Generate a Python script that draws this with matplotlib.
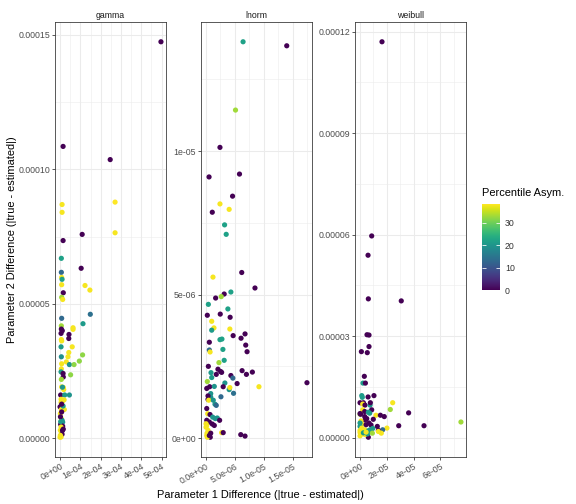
import numpy as np
import matplotlib
matplotlib.use("Agg")
import matplotlib.pyplot as plt
from matplotlib.colors import Normalize
from matplotlib.cm import ScalarMappable
from matplotlib.ticker import FixedLocator

plt.rcParams['font.family'] = ['Liberation Sans', 'DejaVu Sans']

# ---------------- data ----------------
gamma_x = [4.97e-4, 1.5e-5, 2.47e-4, 1.0e-5, 1.0e-5, 2.71e-4, 2.71e-4, 1.5e-5, 1.09e-4, 6.4e-6,
           1.04e-4, 6.4e-6, 8e-6, 1.0e-5, 8e-6, 1.23e-4, 1.47e-4, 1.6e-5, 8e-6, 1.3e-5,
           8e-6, 1.49e-4, 1.13e-4, 6.4e-6, 6.4e-6, 1.1e-5, 5e-6, 4.4e-5, 4.3e-5, 6.4e-5,
           6.4e-5, 6.4e-6, 8e-6, 6.0e-5, 4.3e-5, 3.9e-5, 5e-6, 6.4e-6, 3.1e-5, 4.6e-5,
           6.9e-5, 9.5e-5, 1.11e-4, 8e-6, 6.4e-6, 5e-6, 5.2e-5, 1.5e-5, 1.6e-5, 6.4e-6,
           8e-6, 1.6e-5, 1.8e-5, 3e-6, 2.3e-5, 4.6e-5, 5e-6, 1.3e-5, 2.0e-5, 5e-6,
           0.0, 6.4e-6, 2.1e-5, 1.5e-6, 6.4e-6, 1.0e-5, 1.3e-5, 3e-6, 1.3e-5, 5e-6,
           1.5e-6, 6.4e-6, 1.0e-5, 1.5e-6, 5e-6, 0.0, 2e-6, 8e-6, 3e-6, 1.5e-5,
           8e-6, 1.2e-5, 1.2e-5, 1.6e-5]
gamma_y = [1.474e-4, 1.085e-4, 1.036e-4, 8.69e-5, 8.40e-5, 8.78e-5, 7.64e-5, 7.35e-5, 7.58e-5, 6.69e-5,
           6.32e-5, 6.17e-5, 5.98e-5, 5.91e-5, 5.71e-5, 5.68e-5, 5.51e-5, 5.41e-5, 5.24e-5, 5.16e-5,
           4.46e-5, 4.61e-5, 4.26e-5, 4.18e-5, 4.06e-5, 4.0e-5, 3.9e-5, 3.86e-5, 3.71e-5, 4.11e-5,
           4.05e-5, 3.67e-5, 3.62e-5, 3.40e-5, 3.19e-5, 3.03e-5, 3.40e-5, 3.03e-5, 2.84e-5, 2.74e-5,
           2.74e-5, 2.87e-5, 3.10e-5, 2.77e-5, 2.58e-5, 2.47e-5, 2.36e-5, 2.41e-5, 2.28e-5, 2.19e-5,
           1.91e-5, 1.89e-5, 1.81e-5, 1.61e-5, 1.61e-5, 1.61e-5, 1.45e-5, 1.39e-5, 1.43e-5, 1.33e-5,
           1.17e-5, 1.07e-5, 1.07e-5, 9.2e-6, 7.3e-6, 6.7e-6, 6.0e-6, 5.2e-6, 4.5e-6, 4.2e-6,
           3.0e-6, 2.3e-6, 1.5e-6, 1.1e-6, 5e-7, 4e-7, 8.0e-6, 9.8e-6, 6.2e-6, 1.2e-5,
           1.27e-5, 2.9e-6, 1.9e-5, 3.4e-6]
gamma_c = [0, 0, 0, 38, 38, 38.5, 38, 0, 0, 22,
           0, 13, 38, 22, 38, 38, 38, 0, 33, 38,
           13, 14, 21, 33, 0, 0, 0, 0, 0, 38,
           38, 38, 38, 38, 38, 38, 21, 19, 38, 20,
           32, 32, 32, 38, 38, 21, 32, 0, 0, 33,
           38, 38, 38, 0, 21, 20, 38, 38, 38, 38,
           0, 38, 38, 38, 38, 20, 20, 0, 0, 38,
           38, 38, 0, 38, 38, 38, 0, 0, 21, 21,
           0, 0, 20, 0]

lnorm_x = [6.41e-6, 1.397e-5, 5.10e-6, 2.41e-6, 5.2e-7, 5.79e-6, 4.59e-6, 2.41e-6, 4.0e-6, 1.08e-6,
           3.21e-6, 3.49e-6, 6.18e-6, 1.20e-6, 8.47e-6, 4.30e-6, 3.14e-6, 2.63e-6, 1.66e-6, 4.0e-7,
           3.78e-6, 2.46e-6, 2.2e-7, 4.17e-6, 9.8e-7, 4.12e-6, 1.37e-6, 9.8e-7, 4.69e-6, 6.75e-6,
           6.06e-6, 6.87e-6, 7.10e-6, 5.7e-7, 2.41e-6, 2.75e-6, 5.7e-7, 7e-7, 2.92e-6, 3.14e-6,
           2.23e-6, 4.0e-7, 2.06e-6, 2.52e-6, 1.77e-6, 2.70e-6, 8.6e-7, 9.8e-7, 6.24e-6, 6.99e-6,
           8.02e-6, 4.30e-6, 4.64e-6, 5.38e-6, 4.76e-6, 3.26e-6, 2.97e-6, 4.0e-6, 4.12e-6, 9.16e-6,
           1.747e-5, 2.2e-7, 6.3e-7, 1.43e-6, 1.2e-7, 8.1e-7, 8.1e-7, 3.4e-7, 3.4e-7, 4.6e-7,
           1.25e-6, 1.55e-6, 2.58e-6, 1.77e-6, 1.2e-7, 2.9e-7, 6.9e-7, 1.15e-6, 1.60e-6, 1.94e-6,
           2.35e-6, 1.2e-7, 5.7e-7, 1.08e-6, 1.43e-6, 0.0, 1.2e-7, 0.0, 3.4e-7, 1.7e-7,
           7.3e-7, 1.2e-7, 2.2e-7, 2.70e-6, 2.97e-6, 6.01e-6, 6.75e-6, 8.1e-7, 5.7e-7]
lnorm_y = [1.381e-5, 1.367e-5, 1.143e-5, 1.013e-5, 9.10e-6, 9.20e-6, 8.43e-6, 8.16e-6, 7.97e-6, 7.87e-6,
           7.43e-6, 7.10e-6, 5.77e-6, 5.61e-6, 5.23e-6, 5.09e-6, 5.02e-6, 4.93e-6, 4.88e-6, 4.66e-6,
           4.50e-6, 4.32e-6, 4.28e-6, 4.21e-6, 4.07e-6, 3.80e-6, 3.84e-6, 3.76e-6, 3.57e-6, 3.63e-6,
           3.48e-6, 3.24e-6, 3.01e-6, 3.34e-6, 3.43e-6, 3.45e-6, 3.07e-6, 3.0e-6, 3.09e-6, 2.71e-6,
           2.63e-6, 2.50e-6, 2.40e-6, 2.32e-6, 2.22e-6, 2.29e-6, 2.28e-6, 2.11e-6, 2.35e-6, 2.22e-6,
           2.30e-6, 2.18e-6, 2.09e-6, 1.90e-6, 1.56e-6, 1.92e-6, 1.79e-6, 1.69e-6, 1.76e-6, 1.79e-6,
           1.93e-6, 1.97e-6, 1.79e-6, 1.80e-6, 1.73e-6, 1.55e-6, 1.43e-6, 1.47e-6, 1.35e-6, 1.32e-6,
           1.32e-6, 1.18e-6, 1.44e-6, 1.14e-6, 1.03e-6, 8.5e-7, 8.2e-7, 7.3e-7, 6.8e-7, 7.0e-7,
           6.2e-7, 6.2e-7, 5.6e-7, 4.9e-7, 4.4e-7, 5.0e-7, 4.4e-7, 3.8e-7, 2.7e-7, 1.7e-7,
           3e-8, 9e-8, 3e-8, 1.9e-7, 1.9e-7, 1.2e-7, 7e-8, 1.7e-7, 9e-8]
lnorm_c = [22, 0, 33, 0, 0, 0, 0, 38, 38, 0,
           22, 22, 0, 38, 0, 22, 0, 33, 0, 22,
           22, 0, 0, 0, 38, 38, 38, 21, 0, 0,
           0, 0, 0, 0, 22, 22, 13, 38, 22, 22,
           33, 0, 0, 0, 0, 0, 21, 21, 0, 0,
           0, 0, 13, 0, 14, 20, 0, 20, 38, 38,
           0, 33, 0, 20, 0, 20, 20, 0, 0, 38,
           20, 20, 13, 13, 0, 38, 0, 20, 20, 20,
           0, 0, 0, 0, 0, 38, 38, 38, 38, 38,
           0, 38, 38, 38, 0, 0, 0, 0, 0]

weibull_x = [1.64e-5, 8.7e-6, 5.97e-6, 6.2e-6, 3.08e-5, 5.2e-6, 6.7e-6, 6.7e-6, 1.0e-6, 5.4e-6,
             3.2e-6, 2.2e-6, 4.0e-6, 1.3e-6, 1.7e-6, 6.0e-6, 1.04e-5, 0.0, 2.5e-6, 2.0e-6,
             3.7e-6, 7.5e-6, 2.44e-5, 2.26e-5, 3.63e-5, 0.0, 2.0e-6, 3.5e-6, 8.7e-6, 7.2e-6,
             1.19e-5, 1.52e-5, 1.81e-5, 2.89e-5, 4.78e-5, 7.54e-5, 2.01e-5, 1.69e-5, 1.59e-5, 1.29e-5,
             1.37e-5, 6.2e-6, 7.7e-6, 6.2e-6, 0.0, 5e-7, 3.5e-6, 5.0e-6, 3.7e-6, 9.9e-6,
             7e-7, 1.3e-6, 0.0, 0.0, 6.7e-6, 8.2e-6, 9.5e-6, 1.3e-6, 3.7e-6, 2.5e-6,
             0.0, 0.0, 6.2e-6, 7.5e-6, 1.3e-6, 3.7e-6, 5.6e-6, 0.0, 9.2e-6, 1.37e-5,
             4.5e-6, 2.5e-6, 4.5e-6]
weibull_y = [1.170e-4, 5.96e-5, 5.39e-5, 4.10e-5, 4.04e-5, 3.04e-5, 3.03e-5, 2.69e-5, 2.54e-5, 2.51e-5,
             1.81e-5, 1.61e-5, 1.61e-5, 1.24e-5, 1.19e-5, 1.20e-5, 1.24e-5, 1.03e-5, 1.03e-5, 9.9e-6,
             9.6e-6, 9.6e-6, 1.03e-5, 8.3e-6, 7.3e-6, 6.9e-6, 8.2e-6, 7.7e-6, 8.2e-6, 7.2e-6,
             6.6e-6, 6.6e-6, 6.2e-6, 3.5e-6, 3.5e-6, 4.6e-6, 2.8e-6, 2.3e-6, 1.3e-6, 3.3e-6,
             2.1e-6, 1e-7, 1.03e-5, 7.5e-6, 7.1e-6, 6.9e-6, 6.2e-6, 5.6e-6, 5.2e-6, 5.4e-6,
             4.9e-6, 4.0e-6, 4.3e-6, 3.3e-6, 4.3e-6, 3.7e-6, 2.7e-6, 2.8e-6, 2.3e-6, 1.8e-6,
             2.1e-6, 1.5e-6, 2.0e-6, 2.3e-6, 1.1e-6, 9e-7, 1.1e-6, 5e-7, 1.3e-6, 1.8e-6,
             3.8e-6, 1.4e-6, 1.6e-6]
weibull_c = [0, 0, 0, 0, 0, 0, 0, 0, 0, 0,
             0, 21, 0, 21, 21, 0, 0, 0, 0, 38,
             0, 21, 38, 33, 0, 33, 38, 0, 0, 21,
             38, 0, 0, 0, 0, 33, 38, 13, 38, 0,
             0, 0, 0, 21, 0, 0, 0, 0, 0, 0,
             38, 38, 21, 21, 0, 0, 21, 38, 38, 38,
             38, 38, 21, 21, 38, 38, 21, 38, 33, 38,
             0, 21, 38]

panel_names = ["gamma", "lnorm", "weibull"]

gamma_xticks = [0, 1e-4, 2e-4, 3e-4, 4e-4, 5e-4]
gamma_xlabels = ["0e+00", "1e-04", "2e-04", "3e-04", "4e-04", "5e-04"]
gamma_yticks = [0, 5e-5, 1e-4, 1.5e-4]
gamma_ylabels = ["0.00000", "0.00005", "0.00010", "0.00015"]

lnorm_xticks = [0, 5e-6, 1e-5, 1.5e-5]
lnorm_xlabels = ["0.0e+00", "5.0e-06", "1.0e-05", "1.5e-05"]
lnorm_yticks = [0, 5e-6, 1e-5]
lnorm_ylabels = ["0e+00", "5e-06", "1e-05"]

weibull_xticks = [0, 2e-5, 4e-5, 6e-5]
weibull_xlabels = ["0e+00", "2e-05", "4e-05", "6e-05"]
weibull_yticks = [0, 3e-5, 6e-5, 9e-5, 1.2e-4]
weibull_ylabels = ["0.00000", "0.00003", "0.00006", "0.00009", "0.00012"]

legend_ticks = [0, 10, 20, 30]

# ---------------- figure ----------------
W, H = 576, 504
fig = plt.figure(figsize=(W / 72, H / 72), dpi=72)
fig.patch.set_facecolor("white")

all_c = gamma_c + lnorm_c + weibull_c
norm = Normalize(vmin=min(all_c), vmax=max(all_c))
cmap = plt.get_cmap("viridis")

panels = [
    (gamma_x, gamma_y, gamma_c, gamma_xticks, gamma_xlabels, gamma_yticks, gamma_ylabels),
    (lnorm_x, lnorm_y, lnorm_c, lnorm_xticks, lnorm_xlabels, lnorm_yticks, lnorm_ylabels),
    (weibull_x, weibull_y, weibull_c, weibull_xticks, weibull_xlabels, weibull_yticks, weibull_ylabels),
]
lefts = [55, 201, 355]
pw = 111
top, bottom = 22, 457


def expand(v):
    lo, hi = min(v), max(v)
    r = hi - lo
    return lo - 0.05 * r, hi + 0.05 * r


for name, left, (x, y, c, xt, xl, yt, yl) in zip(panel_names, lefts, panels):
    ax = fig.add_axes([left / W, 1 - bottom / H, pw / W, (bottom - top) / H])
    ax.set_xlim(*expand(x))
    ax.set_ylim(*expand(y))
    ax.set_axisbelow(True)
    ax.xaxis.set_major_locator(FixedLocator(xt))
    ax.yaxis.set_major_locator(FixedLocator(yt))
    ax.set_xticklabels(xl, rotation=30, ha="right", va="top", rotation_mode="anchor")
    ax.set_yticklabels(yl)
    xm = [(a + b) / 2 for a, b in zip(xt[:-1], xt[1:])] + [xt[-1] + (xt[1] - xt[0]) / 2, xt[0] - (xt[1] - xt[0]) / 2]
    ym = [(a + b) / 2 for a, b in zip(yt[:-1], yt[1:])] + [yt[-1] + (yt[1] - yt[0]) / 2, yt[0] - (yt[1] - yt[0]) / 2]
    ax.xaxis.set_minor_locator(FixedLocator(xm))
    ax.yaxis.set_minor_locator(FixedLocator(ym))
    ax.grid(which="major", color="#EBEBEB", linewidth=1.07)
    ax.grid(which="minor", color="#EBEBEB", linewidth=0.53)
    ax.tick_params(which="major", direction="out", length=2.75, width=0.8, color="#333333",
                   labelsize=8.8, labelcolor="#4D4D4D", pad=2.2)
    ax.tick_params(which="minor", length=0)
    for s in ax.spines.values():
        s.set_color("#333333")
        s.set_linewidth(0.8)
    ax.scatter(x, y, c=c, cmap=cmap, norm=norm, s=27, linewidths=0, zorder=3)
    fig.text((left + pw / 2) / W, 1 - 15 / H, name, ha="center", va="center",
             fontsize=8.8, color="#1A1A1A")

fig.text(260.5 / W, 1 - 495 / H, "Parameter 1 Difference (|true - estimated|)",
         ha="center", va="center", fontsize=11)
fig.text(12 / W, 1 - 239.5 / H, "Parameter 2 Difference (|true - estimated|)",
         ha="center", va="center", fontsize=11, rotation=90)

# colour bar legend
cax = fig.add_axes([482 / W, 1 - 290 / H, 18 / W, 86 / H])
sm = ScalarMappable(norm=norm, cmap=cmap)
cb = fig.colorbar(sm, cax=cax)
cb.outline.set_visible(False)
cb.set_ticks(legend_ticks)
cb.set_ticklabels([str(t) for t in legend_ticks])
cax.tick_params(direction="in", color="white", length=3.6, width=0.8,
                left=True, right=True, labelleft=False, labelright=True,
                labelsize=8.8, labelcolor="#333333", pad=5)
fig.text(482 / W, 1 - 193 / H, "Percentile Asym.", ha="left", va="center", fontsize=11)

fig.savefig("out.png", dpi=72)
